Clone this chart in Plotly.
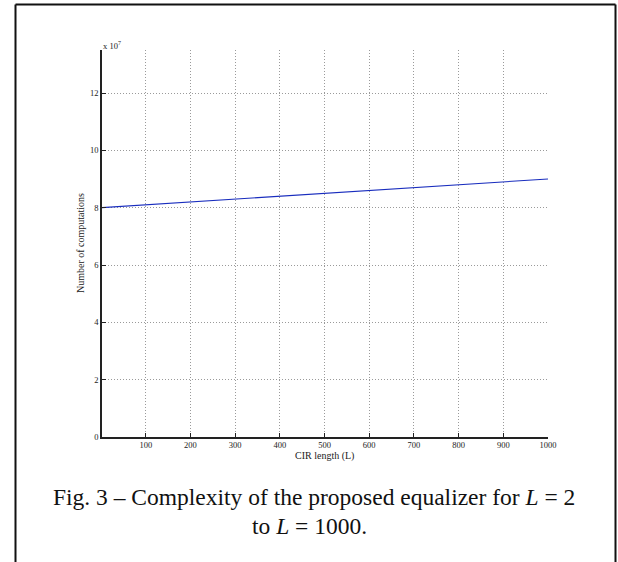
import plotly.graph_objects as go

# Data
cir_length = [2, 100, 200, 300, 400, 500, 600, 700, 800, 900, 1000]
computations = [8.002e7, 8.10e7, 8.20e7, 8.30e7, 8.40e7, 8.50e7, 8.60e7, 8.70e7, 8.80e7, 8.90e7, 9.00e7]

x_ticks = [100, 200, 300, 400, 500, 600, 700, 800, 900, 1000]
y_ticks = [0, 2e7, 4e7, 6e7, 8e7, 10e7, 12e7]
y_tick_text = ["0", "2", "4", "6", "8", "10", "12"]

W, H = 618, 562
L_, R_, T_, B_ = 102, 548, 50, 437
pw, ph = R_ - L_, B_ - T_

def px(x):
    return (x - L_) / pw

def py(y):
    return (B_ - y) / ph

FONT = "Liberation Serif, Times New Roman, serif"
TICK = 8.5
LABEL = 10
INK = "#222"

fig = go.Figure()
fig.add_trace(go.Scatter(x=cir_length, y=computations, mode="lines",
                         line=dict(color="rgb(25,45,190)", width=1.1),
                         showlegend=False, hoverinfo="skip"))

axis_common = dict(showline=True, linecolor=INK, linewidth=1.5,
                   ticks="inside", ticklen=4, tickcolor=INK, tickwidth=1,
                   showgrid=True, gridcolor="#9a9a9a", griddash="1px,2px", gridwidth=1,
                   zeroline=False, mirror=False,
                   tickfont=dict(family=FONT, size=TICK, color=INK))

fig.update_xaxes(range=[2, 1000], tickvals=x_ticks, ticklabelstandoff=-1, **axis_common)
fig.update_yaxes(range=[0, 1.35e8], tickvals=y_ticks, ticktext=y_tick_text, **axis_common)

fig.update_layout(width=W, height=H, margin=dict(l=L_, r=W - R_, t=T_, b=H - B_),
                  paper_bgcolor="white", plot_bgcolor="white")

label_font = dict(family=FONT, size=LABEL, color=INK)
# axis titles
fig.add_annotation(x=px(324), y=py(456), xref="paper", yref="paper", xanchor="center", yanchor="middle",
                   text="CIR length (L)", showarrow=False, font=label_font)
fig.add_annotation(x=px(81), y=py(243), xref="paper", yref="paper", xanchor="center", yanchor="middle",
                   text="Number of computations", textangle=-90, showarrow=False, font=label_font)
# x 10^7 exponent label
fig.add_annotation(x=px(101), y=py(45), xref="paper", yref="paper", xanchor="left", yanchor="middle",
                   text="x 10<sup>7</sup>", showarrow=False, font=dict(family=FONT, size=TICK, color=INK))

# Caption
cap_font = dict(family=FONT, size=23.5, color="#111")
fig.add_annotation(x=px(314), y=py(497), xref="paper", yref="paper", xanchor="center", yanchor="middle",
                   text="Fig. 3 \u2013 Complexity of the proposed equalizer for <i>L</i> = 2",
                   showarrow=False, font=cap_font)
fig.add_annotation(x=px(309), y=py(526), xref="paper", yref="paper", xanchor="center", yanchor="middle",
                   text="to <i>L</i> = 1000.",
                   showarrow=False, font=cap_font)

# Outer frame (left, top, right; bottom is cut off)
frame = dict(type="line", xref="paper", yref="paper", line=dict(color="#111", width=2))
fig.add_shape(x0=px(15.5), x1=px(15.5), y0=py(4.5), y1=py(570), **frame)
fig.add_shape(x0=px(15.5), x1=px(615.5), y0=py(4.5), y1=py(4.5), **frame)
fig.add_shape(x0=px(615.5), x1=px(615.5), y0=py(4.5), y1=py(570), **frame)

fig.write_html("out.html", config={"displayModeBar": False})

# remove default page margin / scrollbars so the figure sits at the window origin
with open("out.html", "r", encoding="utf-8") as f:
    html = f.read()
html = html.replace("<head>", "<head><style>html,body{margin:0;padding:0;overflow:hidden;}</style>", 1)
with open("out.html", "w", encoding="utf-8") as f:
    f.write(html)
